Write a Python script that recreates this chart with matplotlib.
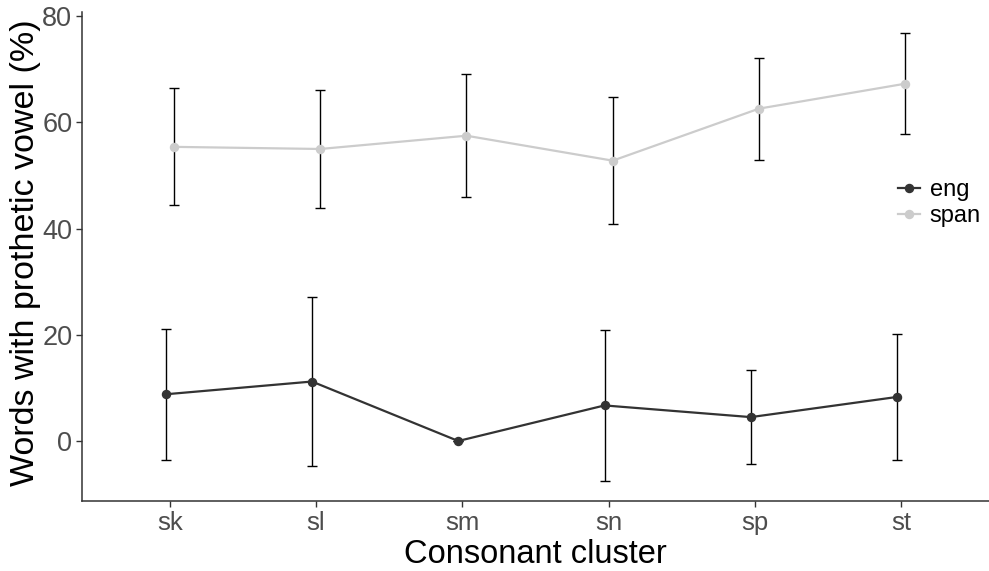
import numpy as np
from matplotlib import pyplot as plt

plt.rcParams['font.family'] = ['Liberation Sans', 'DejaVu Sans']

# values
clusters = ["sk", "sl", "sm", "sn", "sp", "st"]
eng_mean = [8.8, 11.2, 0.0, 6.7, 4.5, 8.3]
eng_err = [12.3, 16.0, 0.0, 14.3, 8.9, 11.9]
span_mean = [55.4, 55.0, 57.5, 52.8, 62.6, 67.3]
span_err = [11.0, 11.2, 11.6, 12.0, 9.6, 9.5]
groups = ["eng", "span"]
colors = ["#333333", "#CCCCCC"]
dodge = 0.028

W, H = 989, 571
fig = plt.figure(figsize=(W / 100, H / 100), dpi=100)
ax = fig.add_axes([82 / W, 70 / H, 1 - 82 / W, (501 - 12) / H])

x = np.arange(len(clusters))
series = [(eng_mean, eng_err), (span_mean, span_err)]
for i, (mean, err) in enumerate(series):
    xs = x + (-dodge if i == 0 else dodge)
    ax.errorbar(xs, mean, yerr=err, fmt='none', ecolor='black', elinewidth=1.0,
                capsize=3.5, capthick=1.0, zorder=2)
    ax.plot(xs, mean, color=colors[i], lw=1.6, marker='o', markersize=5.8,
            label=groups[i], zorder=3)

ax.set_xlim(-0.6, len(clusters) - 0.4)
ax.set_ylim(-11.3, 80.8)
ax.set_xticks(x)
ax.set_xticklabels(clusters)
ax.set_yticks([0, 20, 40, 60, 80])

for side in ["top", "right"]:
    ax.spines[side].set_visible(False)
for side in ["left", "bottom"]:
    ax.spines[side].set_color("#333333")
    ax.spines[side].set_linewidth(1.1)

ax.tick_params(axis='both', colors='#333333', length=4, width=1.0)
ax.tick_params(axis='x', labelsize=18.5, labelcolor='#4D4D4D', pad=3)
ax.tick_params(axis='y', labelsize=19.5, labelcolor='#4D4D4D', pad=3)

ax.set_xlabel("Consonant cluster", fontsize=23.5, color='black')
ax.set_ylabel("Words with prothetic vowel (%)", fontsize=24.5, color='black')
ax.xaxis.set_label_coords(0.5, (501 - 539) / 489)
ax.yaxis.set_label_coords((41 - 82) / 907, 0.507)

ax.legend(loc='center left', bbox_to_anchor=(898 / W, 1 - 203 / H),
          bbox_transform=fig.transFigure, frameon=False, fontsize=17,
          handlelength=0.95, handletextpad=0.4, labelspacing=0.15,
          borderaxespad=0, borderpad=0)

fig.savefig("out.png", dpi=100)
